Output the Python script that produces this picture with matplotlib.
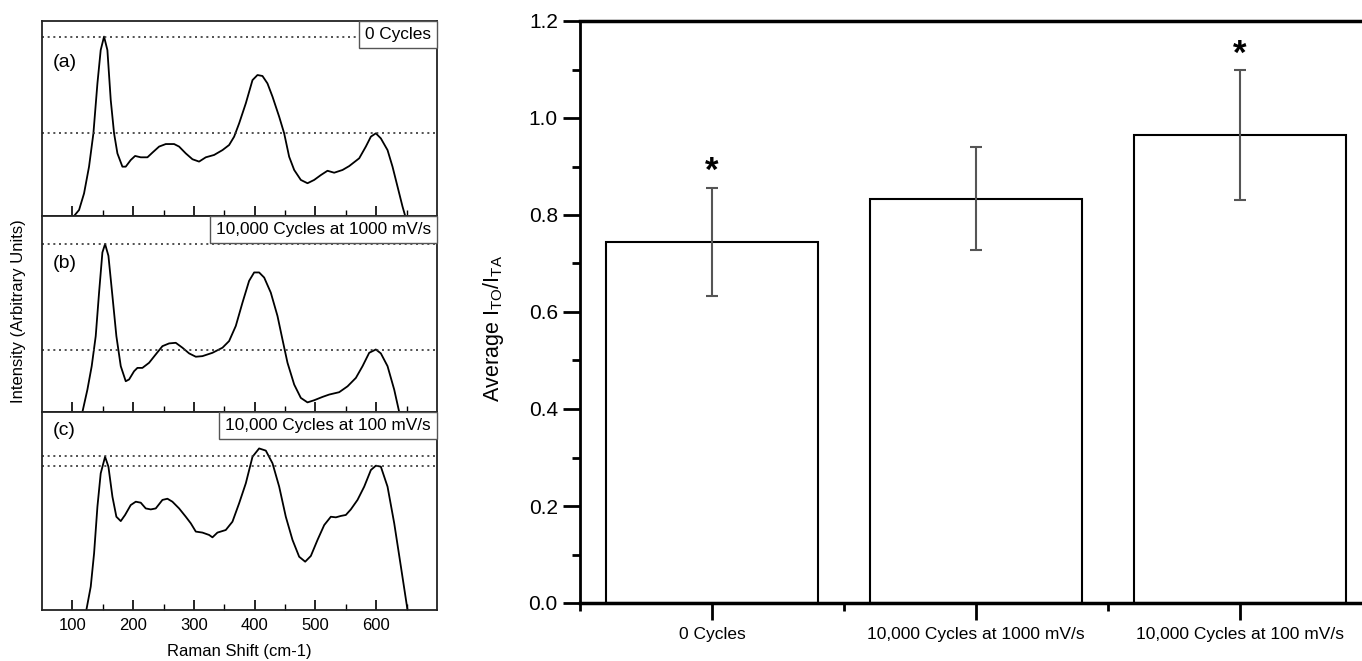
import matplotlib
matplotlib.use("Agg")
import matplotlib.pyplot as plt
from matplotlib.offsetbox import AnchoredText
from matplotlib.ticker import MultipleLocator, FixedLocator

plt.rcParams['font.family'] = ['Liberation Sans', 'DejaVu Sans']
plt.rcParams['mathtext.default'] = 'regular'

# ---------------- Raman spectra (left) ----------------
shift_a = [102.7, 111, 119.2, 127.4, 134.6, 141.2, 146.6, 152.1, 157.6, 163.1, 168.6, 174.1,
           182.3, 187.8, 196.0, 203.2, 212.5, 223.5, 231.7, 242.7, 253.7, 267.4, 275.6, 286.6,
           297.6, 308.5, 319.5, 333.2, 347.0, 357.9, 366.2, 374.4, 385.4, 396.4, 404.6, 412.8,
           421.0, 429.3, 440.3, 448.5, 456.7, 465.0, 475.9, 486.9, 497.9, 508.9, 519.8, 530.8,
           544.5, 555.5, 572.0, 582.9, 591.2, 599.4, 607.6, 618.6, 626.8, 635.1, 643.3, 647.7]
int_a = [0, 3.1, 11.6, 25.3, 42.4, 68.0, 85.1, 92.0, 85.1, 59.5, 42.4, 32.1,
         25.3, 25.3, 28.7, 30.8, 30.1, 30.1, 32.5, 35.6, 36.9, 36.9, 35.6, 32.1,
         29.1, 27.9, 30.1, 31.3, 33.8, 36.4, 40.7, 47.5, 57.8, 69.7, 72.3, 71.8,
         68.0, 61.2, 50.9, 42.4, 30.4, 23.6, 18.5, 16.8, 18.5, 21.0, 23.2, 22.2,
         23.6, 25.6, 29.6, 35.6, 40.7, 42.4, 39.8, 33.8, 25.3, 15.0, 4.8, 0]

shift_b = [116.5, 124.7, 131.8, 138.4, 143.9, 149.4, 153.8, 159.3, 165.9, 172.4, 179.6, 187.8,
           193.3, 201.5, 207.0, 215.2, 226.2, 237.2, 248.2, 259.2, 270.1, 281.1, 292.1, 303.1,
           314.0, 330.5, 347.0, 357.9, 368.9, 379.9, 390.8, 399.1, 407.3, 415.6, 426.5, 437.5,
           445.7, 454.0, 465.0, 475.9, 486.9, 497.9, 511.6, 522.6, 539.0, 552.8, 566.5, 577.5,
           588.4, 599.4, 607.6, 618.6, 629.6, 637.8]
int_b = [0, 11.4, 23.4, 38.7, 60.9, 81.4, 85.7, 79.7, 59.2, 38.7, 23.4, 15.7,
         16.6, 20.8, 22.5, 22.5, 25.1, 29.4, 33.6, 35.0, 35.3, 32.8, 29.9, 28.2,
         28.5, 30.2, 32.8, 36.2, 43.9, 55.8, 66.9, 71.2, 71.2, 68.6, 60.9, 49.0,
         37.0, 25.1, 14.0, 7.2, 4.9, 6.0, 7.7, 8.9, 10.1, 13.1, 17.4, 23.4,
         30.2, 31.9, 29.9, 23.4, 11.4, 0]

shift_c = [123.0, 130.2, 135.7, 141.2, 146.6, 153.8, 159.3, 165.9, 172.4, 179.6, 186.7, 196.0,
           204.3, 212.5, 220.7, 229.0, 237.2, 248.2, 256.4, 264.6, 275.6, 286.6, 294.8, 303.1,
           314.0, 325.0, 330.5, 338.7, 352.4, 363.4, 374.4, 385.4, 396.4, 407.3, 418.3, 429.3,
           440.3, 451.2, 462.2, 473.2, 483.1, 492.4, 503.4, 514.4, 525.3, 533.6, 541.8, 550.0,
           558.2, 569.2, 580.2, 591.2, 599.4, 607.6, 618.6, 629.6, 640.6, 651.5]
int_c = [0, 11.8, 28.6, 52.2, 69.0, 77.4, 72.4, 57.2, 47.1, 44.9, 48.0, 53.0,
         54.7, 54.2, 51.3, 50.8, 51.3, 55.6, 56.2, 54.7, 51.3, 47.1, 43.8, 39.6,
         39.1, 37.9, 36.7, 39.1, 40.4, 44.6, 53.9, 64.0, 77.4, 81.6, 80.5, 74.1,
         62.3, 47.1, 35.4, 26.9, 24.4, 27.3, 35.4, 42.9, 47.1, 46.8, 47.5, 48.0,
         50.8, 55.6, 62.3, 70.7, 72.9, 72.4, 62.3, 43.8, 21.9, 0]

panel_letters = ['(a)', '(b)', '(c)']
panel_titles = ['0 Cycles', '10,000 Cycles at 1000 mV/s', '10,000 Cycles at 100 mV/s']
ref_levels = [[92.0, 42.4], [85.7, 31.6], [77.9, 72.9]]

# ---------------- Bar chart (right) ----------------
categories = ['0 Cycles', '10,000 Cycles at 1000 mV/s', '10,000 Cycles at 100 mV/s']
ratio_mean = [0.745, 0.834, 0.964]
ratio_err = [0.111, 0.107, 0.134]
significant = [True, False, True]

W, H = 1362, 661
fig = plt.figure(figsize=(W / 100, H / 100), dpi=100)

panel_px = [(21, 216), (216, 412), (412, 610)]
letter_y = [0.785, 0.76, 0.905]
spectra = [(shift_a, int_a), (shift_b, int_b), (shift_c, int_c)]
left_axes = []
for i, (top, bot) in enumerate(panel_px):
    ax = fig.add_axes([42 / W, 1 - bot / H, 395 / W, (bot - top) / H])
    sx, sy = spectra[i]
    ax.plot(sx, sy, color='black', lw=1.3)
    for lv in ref_levels[i]:
        ax.axhline(lv, color='#333333', lw=1.2, ls=(0, (1.2, 2.2)))
    ax.set_xlim(50, 700)
    ax.set_ylim(0, 100)
    ax.set_yticks([])
    ax.xaxis.set_major_locator(FixedLocator([100, 200, 300, 400, 500, 600]))
    ax.xaxis.set_minor_locator(FixedLocator([150, 250, 350, 450, 550, 650]))
    ax.tick_params(axis='x', which='major', direction='in', length=7, width=1.2,
                   labelsize=12, pad=6)
    ax.tick_params(axis='x', which='minor', direction='in', length=4, width=1.0)
    if i < 2:
        ax.tick_params(axis='x', which='both', labelbottom=False)
    for s in ax.spines.values():
        s.set_linewidth(1.3)
        s.set_color('#222222')
    ax.text(0.028, letter_y[i], panel_letters[i], transform=ax.transAxes,
            fontsize=14, va='center', ha='left')
    at = AnchoredText(panel_titles[i], loc='upper right', frameon=True,
                      pad=0.35, borderpad=0.0, prop=dict(size=12.4))
    at.patch.set_edgecolor('#555555')
    at.patch.set_linewidth(1.0)
    at.patch.set_boxstyle('square,pad=0')
    ax.add_artist(at)
    left_axes.append(ax)

left_axes[2].set_xlabel('Raman Shift (cm-1)', fontsize=12, labelpad=8)
fig.text(19 / W, 1 - 311 / H, 'Intensity (Arbitrary Units)', rotation=90,
         ha='center', va='center', fontsize=12)

# Right panel
axr = fig.add_axes([580 / W, 1 - 603 / H, 792 / W, 582 / H])
xpos = list(range(1, len(categories) + 1))
axr.bar(xpos, ratio_mean, width=0.8, color='white', edgecolor='black', linewidth=1.5, zorder=2)
axr.errorbar(xpos, ratio_mean, yerr=ratio_err, fmt='none', ecolor='#555555',
             elinewidth=1.5, capsize=4.5, capthick=1.5, zorder=3)
for x, m, e, sig in zip(xpos, ratio_mean, ratio_err, significant):
    if sig:
        axr.annotate('*', xy=(x, m + e), xytext=(0, 5), textcoords='offset points',
                     ha='center', va='baseline', fontsize=25, fontweight='bold')
axr.set_xlim(0.5, 3.5)
axr.set_ylim(0, 1.2)
axr.set_xticks(xpos)
axr.set_xticklabels(categories, fontsize=12.5)
axr.xaxis.set_minor_locator(FixedLocator([0.5, 1.5, 2.5, 3.5]))
axr.yaxis.set_major_locator(MultipleLocator(0.2))
axr.yaxis.set_minor_locator(MultipleLocator(0.1))
axr.yaxis.set_major_formatter(plt.FormatStrFormatter('%.1f'))
axr.tick_params(axis='both', which='major', direction='out', length=12, width=2)
axr.tick_params(axis='both', which='minor', direction='out', length=6, width=2)
axr.tick_params(axis='y', labelsize=15, pad=4)
axr.tick_params(axis='x', pad=5)
axr.spines['left'].set_linewidth(2)
axr.spines['bottom'].set_linewidth(2.5)
axr.spines['top'].set_linewidth(2.5)
axr.spines['right'].set_linewidth(2)
fig.text(493 / W, 1 - 328 / H, 'Average I$_{TO}$/I$_{TA}$', rotation=90,
         ha='center', va='center', fontsize=15.5)

fig.savefig('out.png', dpi=100)
